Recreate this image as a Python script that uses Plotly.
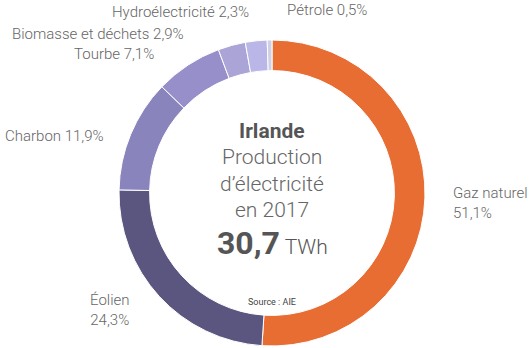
import plotly.graph_objects as go

labels = ["Gaz naturel", "Éolien", "Charbon", "Tourbe", "Biomasse et déchets", "Hydroélectricité", "Pétrole"]
values = [51.1, 24.3, 11.9, 7.1, 2.9, 2.3, 0.5]
value_text = ["51,1%", "24,3%", "11,9%", "7,1%", "2,9%", "2,3%", "0,5%"]
colors = ["#E86D33", "#5B567F", "#8A84BD", "#968FC9", "#AAA5D6", "#BAB7E8", "#CFCFE6"]

W, H = 530, 348
cx, cy, r = 272, 193, 153

fig = go.Figure(go.Pie(
    labels=labels, values=values, sort=False, direction="clockwise", rotation=0,
    hole=0.80, textinfo="none", hoverinfo="label+percent",
    marker=dict(colors=colors, line=dict(color="white", width=1)),
    domain=dict(x=[(cx - r) / W, (cx + r) / W], y=[(H - cy - r) / H, (H - cy + r) / H]),
    showlegend=False,
))

FONT = "Roboto"
GREY = "#666666"
DARK = "#555555"

def ann(text, x, y, size, color=GREY, xanchor="center", bold=False, align="center", weight=300):
    fig.add_annotation(
        text=("<b>%s</b>" % text) if bold else text,
        x=x / W, y=1 - y / H, xref="paper", yref="paper",
        xanchor=xanchor, yanchor="middle", showarrow=False, align=align,
        font=dict(family=FONT, size=size, color=color, weight=weight),
    )

# slice labels
ann(f"{labels[0]}<br>{value_text[0]}", 451, 203, 15, xanchor="left", align="left")
ann(f"{labels[1]}<br>{value_text[1]}", 110, 310, 15)
ann(f"{labels[2]} {value_text[2]}", 3, 136, 15, xanchor="left")
ann(f"{labels[3]} {value_text[3]}", 156, 54, 15, xanchor="right")
ann(f"{labels[4]} {value_text[4]}", 186, 34, 15, xanchor="right")
ann(f"{labels[5]} {value_text[5]}", 251, 12, 15, xanchor="right")
ann(f"{labels[6]} {value_text[6]}", 285, 10, 15, xanchor="left")

# centre text
ann("Irlande", cx, 131, 21, color=DARK, bold=True)
ann("Production", cx, 157, 21)
ann("d’électricité", cx, 184, 21)
ann("en 2017", cx, 210, 21)
ann("<b style='font-size:32px'>30,7</b> TWh", cx, 243, 21, color=DARK)
ann("Source : AIE", cx, 302, 9, color="#444444", weight=400)

fig.update_layout(
    width=W, height=H, margin=dict(l=0, r=0, t=0, b=0),
    paper_bgcolor="white", plot_bgcolor="white",
)

fig.write_html("out.html")
